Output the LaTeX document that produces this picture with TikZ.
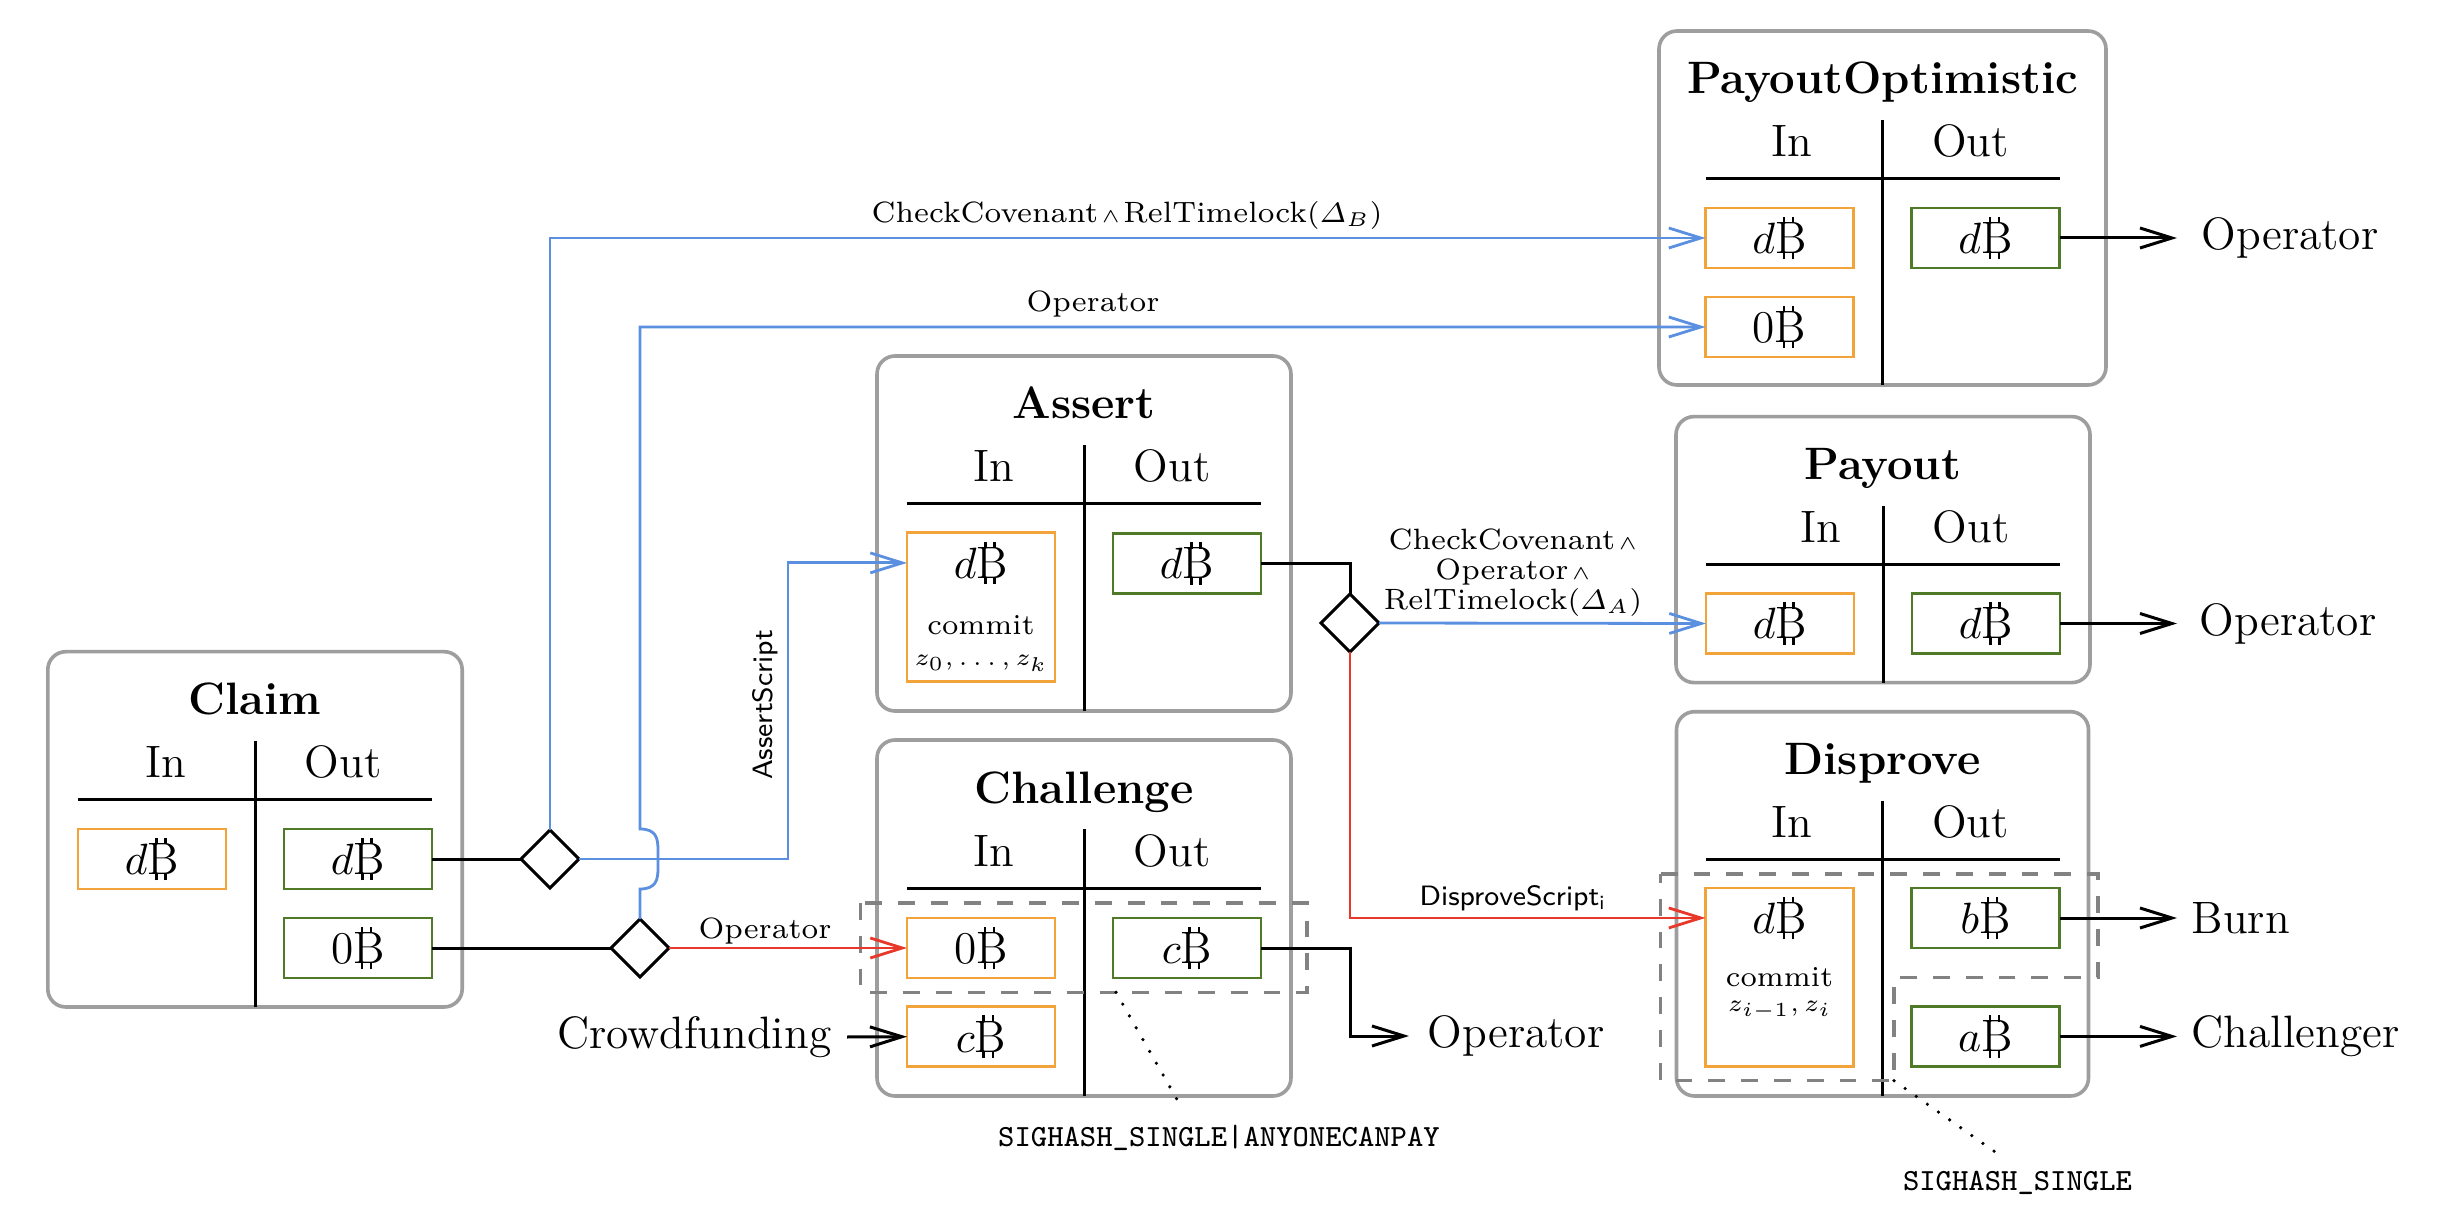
\documentclass[tikz,border=0pt]{standalone}
\usepackage{amsmath}
\usetikzlibrary{arrows.meta,shapes.geometric,calc}
\definecolor{coinorange}{RGB}{242,163,58}
\definecolor{coingreen}{RGB}{79,122,40}
\definecolor{flowblue}{RGB}{91,143,224}
\definecolor{flowred}{RGB}{232,56,42}
\definecolor{framegrey}{RGB}{158,158,158}
\definecolor{dashgrey}{RGB}{130,130,130}
\newcommand\btc{\mbox{\rlap{B}\rlap{\hspace{0.17em}\rule[0.66em]{0.05em}{0.15em}}\rlap{\hspace{0.37em}\rule[0.66em]{0.05em}{0.15em}}\rlap{\hspace{0.17em}\rule[-0.13em]{0.05em}{0.15em}}\rlap{\hspace{0.37em}\rule[-0.13em]{0.05em}{0.15em}}\phantom{B}}}
\newcommand\mainfs{\fontsize{11.35}{13.6}\selectfont}
\newcommand\andsym{\kern0.8pt$\scriptstyle\wedge$}
\tikzset{
  frame/.style={draw=framegrey, line width=0.9pt, rounded corners=4.5pt, outer sep=0pt, inner sep=0pt},
  ttl/.style={anchor=base, inner sep=0pt, font=\mainfs\bfseries},
  hdr/.style={anchor=base, inner sep=0pt, font=\mainfs},
  rulebar/.style={line width=0.75pt},
  coinin/.style={draw=coinorange, line width=0.7pt, minimum width=37pt, minimum height=15pt, inner sep=0pt, outer sep=0pt, font=\mainfs},
  coinout/.style={draw=coingreen, line width=0.7pt, minimum width=37pt, minimum height=15pt, inner sep=0pt, outer sep=0pt, font=\mainfs},
  cointext/.style={inner sep=0pt, font=\mainfs},
  small/.style={anchor=base, inner sep=0pt, font=\fontsize{7.2}{7.2}\selectfont},
  smallmath/.style={anchor=base, inner sep=0pt, font=\fontsize{6.2}{6.2}\selectfont},
  gate/.style={diamond, draw, fill=white, line width=0.75pt, minimum width=14.5pt, minimum height=14.5pt, inner sep=0pt, outer sep=0pt},
  lbl/.style={inner sep=0pt, font=\fontsize{7.35}{7.5}\selectfont},
  slbl/.style={inner sep=0pt, font=\fontsize{7.0}{7.0}\selectfont\sffamily},
  ttlbl/.style={inner sep=0pt, font=\fontsize{7.7}{7.7}\selectfont\ttfamily},
  dest/.style={anchor=west, inner ysep=0pt, font=\mainfs},
  tip/.style={-{Straight Barb[length=8pt,width=5pt]}},
  blk/.style={line width=0.75pt},
  blu/.style={line width=0.7pt, draw=flowblue},
  rd/.style={line width=0.7pt, draw=flowred},
  grp/.style={draw=dashgrey, line width=0.8pt, dash pattern=on 4.2pt off 4pt},
  dots/.style={line width=0.9pt, line cap=round, dash pattern=on 0pt off 3.4pt},
}
% name, cx, top, width, height, title, x of "In"
\newcommand\txbox[7]{%
  \node[frame, minimum width=#4*0.25pt, minimum height=#5*0.25pt, anchor=north] (#1) at (#2,#3) {};
  \node[ttl] (#1-t) at (#2,#3+63) {#6};
  \node[hdr] (#1-hi) at (#7,#3+126) {In};
  \node[hdr] (#1-ho) at (#2+88,#3+126) {Out};
  \draw[rulebar] (#2-177,#3+148) -- (#2+177,#3+148);
  \draw[rulebar] (#2,#3+89) -- (#1.south);
}
\begin{document}
\begin{tikzpicture}[x=0.25pt,y=-0.25pt]
\useasboundingbox[fill=white] (0,0) rectangle (2442,1218);

% transaction boxes
\txbox{claim}{255}{651.7}{414.4}{355.3}{Claim}{166}
\txbox{assert}{1084}{356}{414}{355}{Assert}{994}
\txbox{chal}{1084}{740}{414}{356}{Challenge}{994}
\txbox{po}{1882.5}{31}{447}{354}{PayoutOptimistic}{1792}
\txbox{pay}{1883}{416.6}{414}{266}{Payout}{1821}
\txbox{dis}{1882.5}{711.7}{412}{384.3}{Disprove}{1792}

% coins
\node[coinin]  (claim-i1) at (152,859) {$d$\btc};
\node[coinout] (claim-o1) at (358,859) {$d$\btc};
\node[coinout] (claim-o2) at (358,948) {0\btc};

\node[coinin, minimum height=37.25pt] (assert-i1) at (981,607.4) {};
\node[cointext] (assert-i1a) at ([yshift=-7.5pt]assert-i1.north) {$d$\btc};
\node[small] (assert-i1b) at (981,635) {commit};
\node[smallmath] (assert-i1c) at (981,666) {$z_0,\ldots,z_k$};
\node[coinout] (assert-o1) at (1187,563.5) {$d$\btc};

\node[coinin]  (chal-i1) at (981,948) {0\btc};
\node[coinin]  (chal-i2) at (981,1036.7) {$c$\btc};
\node[coinout] (chal-o1) at (1187,948) {$c$\btc};

\node[coinin]  (po-i1) at (1779.5,238) {$d$\btc};
\node[coinin]  (po-i2) at (1779.5,327) {0\btc};
\node[coinout] (po-o1) at (1985.5,238) {$d$\btc};

\node[coinin]  (pay-i1) at (1780,623.5) {$d$\btc};
\node[coinout] (pay-o1) at (1986,623.5) {$d$\btc};

\node[coinin, minimum height=44.7pt] (dis-i1) at (1779.5,977.35) {};
\node[cointext] (dis-i1a) at ([yshift=-7.5pt]dis-i1.north) {$d$\btc};
\node[small] (dis-i1b) at (1779.5,986) {commit};
\node[smallmath] (dis-i1c) at (1779.5,1011) {$z_{i-1},z_i$};
\node[coinout] (dis-o1) at (1985.5,918) {$b$\btc};
\node[coinout] (dis-o2) at (1985.5,1036.4) {$a$\btc};

% groups (signature scopes)
\draw[grp] (860.8,903) rectangle (1307,992.3);
\draw[grp] (1660.7,874) -- (2098,874) -- (2098,977.3) -- (1894,977.3) -- (1894,1080.7) -- (1660.7,1080.7) -- cycle;

% destinations
\node[dest, inner xsep=6pt]   (poOp)  at (2177,238)    {Operator};
\node[dest, inner xsep=5.5pt] (payOp) at (2177,623.5)  {Operator};
\node[dest, inner xsep=3.5pt] (burn)  at (2177,918)    {Burn};
\node[dest, inner xsep=3.5pt] (chl)   at (2177,1036.4) {Challenger};
\node[dest, inner xsep=4.5pt] (chOp)  at (1409,1036)   {Operator};
\node[anchor=east, inner ysep=0pt, inner xsep=3.75pt, font=\mainfs] (crowd) at (847,1037) {Crowdfunding};

% junction coordinates
\coordinate (jA) at (788,859);
\coordinate (jB1) at (640,889);
\coordinate (jB2) at (640,829);
\coordinate (jC) at (1350,948);

% black connectors
\draw[blk] (claim-o1.east) -- (550,859);
\draw[blk] (claim-o2.east) -- (640,948);
\draw[blk] (assert-o1.east) -| (1350,623);
\draw[blk, tip] (chal-o1.east) -- (jC) |- (chOp.west);
\draw[blk, tip] (crowd.east) -- (chal-i2.west);
\draw[blk, tip] (po-o1.east) -- (poOp.west);
\draw[blk, tip] (pay-o1.east) -- (payOp.west);
\draw[blk, tip] (dis-o1.east) -- (burn.west);
\draw[blk, tip] (dis-o2.east) -- (chl.west);

% gates
\node[gate] (d1) at (550,859) {};
\node[gate] (d2) at (640,948) {};
\node[gate] (d3) at (1350,623) {};

% blue connectors
\draw[blu, tip] (d1.north) |- (po-i1.west);
\draw[blu, tip] (d2.north) -- (jB1) .. controls (656,889) and (658,880) .. (658,868) -- (658,850) .. controls (658,838) and (656,829) .. (jB2) |- (po-i2.west);
\draw[blu, tip] (d1.east) -- (jA) |- ([yshift=-7.5pt]assert-i1.north west);
\draw[blu, tip] (d3.east) -- (pay-i1.west);

% red connectors
\draw[rd, tip] (d2.east) -- (chal-i1.west);
\draw[rd, tip] (d3.south) |- ([yshift=-7.5pt]dis-i1.north west);

% connector labels
\node[lbl, anchor=base] (l1) at (1127,222.7) {CheckCovenant\andsym\kern0.8pt RelTimelock$(\varDelta_B)$};
\node[lbl, anchor=base] (l2) at (1093,311.7) {Operator};
\node[slbl, rotate=90] (l3) at (765,705) {AssertScript};
\node[lbl, anchor=south, align=center] (l4) at (1513,617) {CheckCovenant\andsym\\Operator\andsym\\RelTimelock$(\varDelta_A)$};
\node[lbl, anchor=base] (l5) at (765,938) {Operator};
\node[slbl, anchor=base] (l6) at (1513,905) {DisproveScript$_{\textsf{i}}$};

% sighash notes
\node[ttlbl, anchor=base] (sh1) at (1219,1146.7) {SIGHASH\_SINGLE|ANYONECANPAY};
\node[ttlbl, anchor=base] (sh2) at (2017.5,1190) {SIGHASH\_SINGLE};
\coordinate (s1a) at (1116,992.3);
\coordinate (s1b) at (1183,1110);
\coordinate (s2a) at (1894,1080.7);
\coordinate (s2b) at (1994.7,1151.7);
\draw[dots] (s1a) -- (s1b);
\draw[dots] (s2a) -- (s2b);
\end{tikzpicture}
\end{document}
